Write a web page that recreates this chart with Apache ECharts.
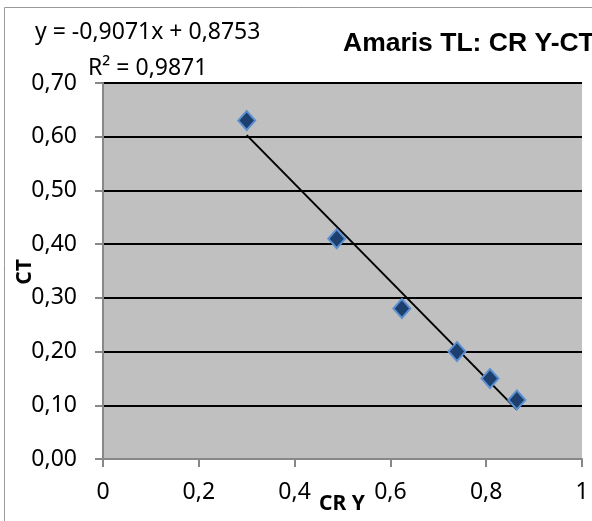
<!DOCTYPE html>
<html><head><meta charset="utf-8">
<script src="https://cdn.jsdelivr.net/npm/echarts/dist/echarts.min.js"></script>
<style>html,body{margin:0;padding:0;background:#fff}#c{width:592px;height:521px}</style>
</head><body><div id="c"></div>
<script>
// ---- data ----
const crY = [0.30, 0.488, 0.624, 0.739, 0.808, 0.864];
const ct = [0.63, 0.41, 0.28, 0.20, 0.15, 0.11];
const trendX = [0.30, 0.864];
const trendY = [0.603, 0.092];
const xTickLabels = ['0', '0,2', '0,4', '0,6', '0,8', '1'];
const yTickLabels = ['0,00', '0,10', '0,20', '0,30', '0,40', '0,50', '0,60', '0,70'];
const titleText = 'Amaris TL: CR Y-CT';
const equationText = 'y = -0,9071x + 0,8753';
const r2Text = 'R\u00b2 = 0,9871';
const xName = 'CR Y';
const yName = 'CT';

const FONT = '"Noto Sans", "Open Sans", sans-serif';
const chart = echarts.init(document.getElementById('c'), null, {renderer: 'canvas'});
chart.setOption({
  animation: false,
  backgroundColor: '#fff',
  grid: {left: 103, right: 10, top: 83, bottom: 62, outerBoundsMode: 'none', containLabel: false,
         show: true, backgroundColor: '#C0C0C0', borderWidth: 0},
  xAxis: {
    type: 'value', min: 0, max: 1, interval: 0.2,
    axisLine: {show: true, onZero: false, lineStyle: {color: '#888', width: 2}},
    axisTick: {show: true, inside: false, length: 8, lineStyle: {color: '#888', width: 2}},
    axisLabel: {margin: 22, fontFamily: FONT, fontSize: 23, color: '#000',
      formatter: v => xTickLabels[Math.round(v / 0.2)]},
    splitLine: {show: false}
  },
  yAxis: {
    type: 'value', min: 0, max: 0.7, interval: 0.1,
    axisLine: {show: true, onZero: false, lineStyle: {color: '#888', width: 2}},
    axisTick: {show: true, inside: false, length: 8, lineStyle: {color: '#888', width: 2}},
    axisLabel: {margin: 26, fontFamily: FONT, fontSize: 23, color: '#000',
      formatter: v => yTickLabels[Math.round(v / 0.1)]},
    splitLine: {show: true, lineStyle: {color: '#000', width: 2}}
  },
  series: [
    {
      type: 'line', data: trendX.map((x, i) => [x, trendY[i]]),
      symbol: 'none', lineStyle: {color: '#000', width: 2}, z: 3, silent: true
    },
    {
      type: 'scatter', data: crY.map((x, i) => [x, ct[i]]),
      symbol: 'diamond', symbolSize: [17, 19],
      itemStyle: {color: '#1C3F6E', borderColor: '#5B8FD2', borderWidth: 2, opacity: 1},
      z: 4
    }
  ],
  graphic: [
    {type: 'rect', shape: {x: 4.5, y: 7.5, width: 700, height: 600}, silent: true,
     style: {fill: 'none', stroke: '#999', lineWidth: 1}, z: -1},
    {type: 'text', x: 35, y: 32, style: {text: equationText, font: '23px ' + FONT, fill: '#000', textVerticalAlign: 'middle'}},
    {type: 'text', x: 88, y: 68, style: {text: r2Text, font: '23px ' + FONT, fill: '#000', textVerticalAlign: 'middle'}},
    {type: 'text', x: 343, y: 44, style: {text: titleText, font: 'bold 26.5px "Liberation Sans", Arial, sans-serif', fill: '#000', textVerticalAlign: 'middle'}},
    {type: 'text', x: 342, y: 504, style: {text: xName, font: 'bold 21px ' + FONT, fill: '#000', textAlign: 'center', textVerticalAlign: 'middle'}},
    {type: 'text', x: 25, y: 272, rotation: Math.PI / 2, style: {text: yName, font: 'bold 21px ' + FONT, fill: '#000', textAlign: 'center', textVerticalAlign: 'middle'}}
  ]
});
</script>
</body></html>
